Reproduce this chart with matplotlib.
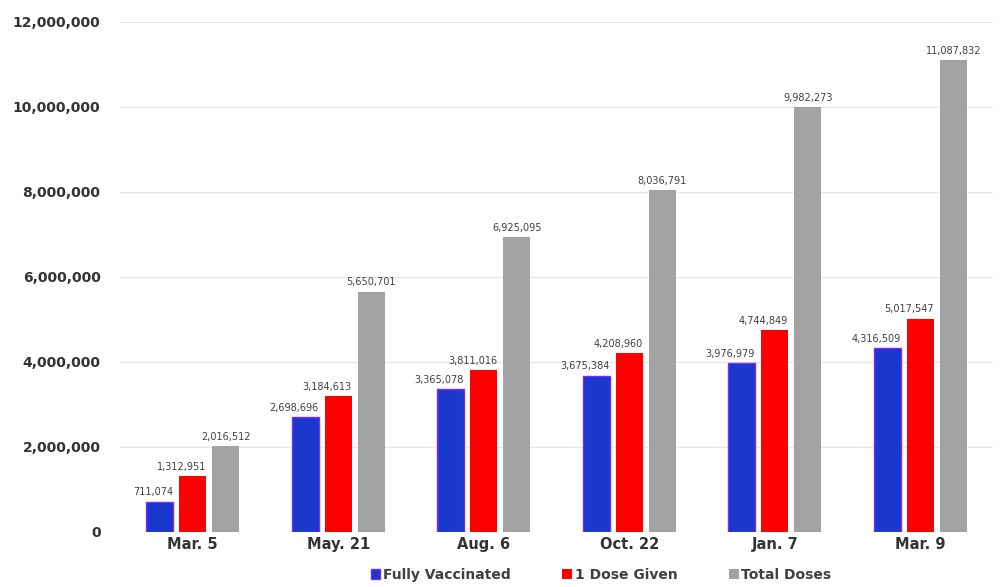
import numpy as np
import matplotlib.pyplot as plt
from matplotlib.ticker import FuncFormatter

# data
dates = ['Mar. 5', 'May. 21', 'Aug. 6', 'Oct. 22', 'Jan. 7', 'Mar. 9']
fully_vaccinated = [711074, 2698696, 3365078, 3675384, 3976979, 4316509]
one_dose = [1312951, 3184613, 3811016, 4208960, 4744849, 5017547]
total_doses = [2016512, 5650701, 6925095, 8036791, 9982273, 11087832]

plt.rcParams['font.family'] = ['DejaVu Sans']

fig = plt.figure(figsize=(10, 5.87), dpi=100)
ax = fig.add_axes([0.12, 0.094, 0.873, 0.869])

x = np.arange(len(dates))
w = 0.186
step = 0.228

b1 = ax.bar(x - step, fully_vaccinated, w, color='#1b38cc', edgecolor='#7a2cff', linewidth=1.0,
            label='Fully Vaccinated', zorder=3)
b2 = ax.bar(x, one_dose, w, color='#ff0000', label='1 Dose Given', zorder=3)
b3 = ax.bar(x + step, total_doses, w, color='#a3a3a3', label='Total Doses', zorder=3)

# value labels
for bars, ha in ((b1, 'right'), (b2, 'right'), (b3, 'center')):
    for r in bars:
        h = r.get_height()
        xpos = r.get_x() + r.get_width() if ha == 'right' else r.get_x() + r.get_width() / 2
        ax.annotate('{:,}'.format(int(h)), (xpos, h), xytext=(0, 3), textcoords='offset points',
                    ha=ha, va='bottom', fontsize=7, color='#404040', zorder=4)

ax.set_xlim(-0.5, len(dates) - 0.5)
ax.set_ylim(0, 12000000)
ax.set_yticks(np.arange(0, 12000001, 2000000))
ax.yaxis.set_major_formatter(FuncFormatter(lambda v, p: '{:,}'.format(int(v))))
ax.set_xticks(x)
ax.set_xticklabels(dates)

ax.grid(axis='y', color='#e6e6e6', linewidth=1, zorder=0)
for s in ax.spines.values():
    s.set_visible(False)
ax.tick_params(axis='y', length=0, labelsize=10, labelcolor='#333333', pad=14)
ax.tick_params(axis='x', length=0, labelsize=10.5, labelcolor='#333333', pad=4)
for t in ax.get_xticklabels() + ax.get_yticklabels():
    t.set_fontweight('bold')

leg = fig.legend(handles=[b1, b2, b3], loc='lower center', bbox_to_anchor=(0.601, -0.012), ncol=3,
                 frameon=False, handlelength=0.7, handleheight=0.7, handletextpad=0.2,
                 columnspacing=3.7, prop={'size': 10, 'weight': 'bold'})
for t in leg.get_texts():
    t.set_color('#404040')

fig.savefig('out.png', dpi=100)
